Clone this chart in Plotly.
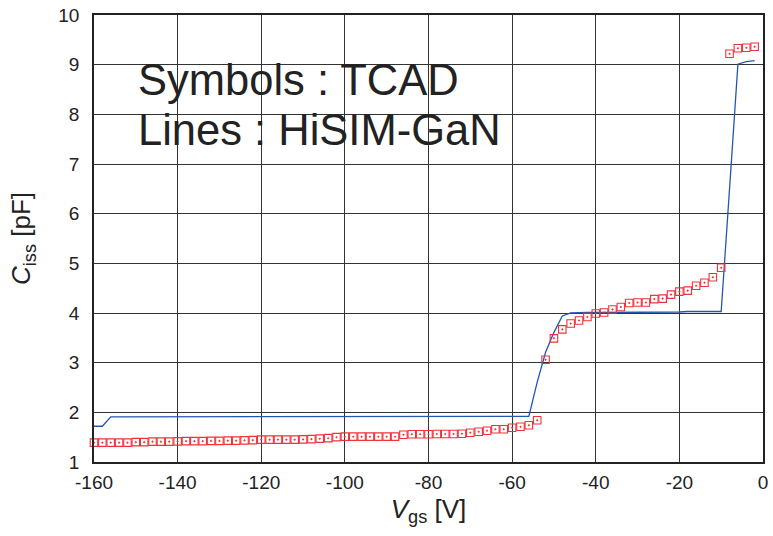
import plotly.graph_objects as go

# ---- data ----
vgs_tcad = [-160, -158, -156, -154, -152, -150, -148, -146, -144, -142,
            -140, -138, -136, -134, -132, -130, -128, -126, -124, -122,
            -120, -118, -116, -114, -112, -110, -108, -106, -104, -102,
            -100, -98, -96, -94, -92, -90, -88, -86, -84, -82,
            -80, -78, -76, -74, -72, -70, -68, -66, -64, -62,
            -60, -58, -56, -54, -52, -50, -48, -46, -44, -42,
            -40, -38, -36, -34, -32, -30, -28, -26, -24, -22,
            -20, -18, -16, -14, -12, -10, -8, -6, -4, -2]
ciss_tcad = [1.39, 1.39, 1.39, 1.39, 1.39, 1.40, 1.40, 1.41, 1.41, 1.41,
             1.415, 1.42, 1.42, 1.42, 1.425, 1.425, 1.43, 1.43, 1.435, 1.44,
             1.45, 1.45, 1.45, 1.45, 1.45, 1.455, 1.46, 1.47, 1.48, 1.50,
             1.51, 1.51, 1.51, 1.51, 1.51, 1.51, 1.51, 1.55, 1.56, 1.56,
             1.56, 1.565, 1.565, 1.565, 1.57, 1.59, 1.61, 1.63, 1.66, 1.66,
             1.69, 1.71, 1.74, 1.84, 3.06, 3.49, 3.67, 3.79, 3.85, 3.92,
             3.99, 4.01, 4.07, 4.12, 4.20, 4.21, 4.21, 4.28, 4.29, 4.37,
             4.43, 4.45, 4.55, 4.61, 4.72, 4.91, 9.22, 9.33, 9.34, 9.36]

vgs_hisim = [-160, -158, -156, -154, -152, -150, -148, -146, -144, -142,
             -140, -138, -136, -134, -132, -130, -128, -126, -124, -122,
             -120, -118, -116, -114, -112, -110, -108, -106, -104, -102,
             -100, -98, -96, -94, -92, -90, -88, -86, -84, -82,
             -80, -78, -76, -74, -72, -70, -68, -66, -64, -62,
             -60, -58, -56, -54, -52, -50, -48, -46, -44, -42,
             -40, -38, -36, -34, -32, -30, -28, -26, -24, -22,
             -20, -18, -16, -14, -12, -10, -8, -6, -4, -2]
ciss_hisim = [1.72, 1.72, 1.91, 1.91, 1.91, 1.91, 1.91, 1.91, 1.91, 1.91,
              1.91, 1.91, 1.91, 1.91, 1.91, 1.91, 1.91, 1.91, 1.91, 1.91,
              1.91, 1.91, 1.91, 1.91, 1.91, 1.91, 1.91, 1.91, 1.91, 1.91,
              1.91, 1.92, 1.92, 1.92, 1.92, 1.92, 1.92, 1.92, 1.92, 1.92,
              1.92, 1.92, 1.92, 1.92, 1.92, 1.92, 1.92, 1.92, 1.92, 1.92,
              1.92, 1.92, 1.92, 2.61, 3.21, 3.61, 3.94, 4.00, 4.01, 4.01,
              4.01, 4.01, 4.01, 4.02, 4.02, 4.02, 4.02, 4.02, 4.02, 4.02,
              4.02, 4.03, 4.03, 4.03, 4.03, 4.03, 6.50, 9.01, 9.06, 9.08]

x_tickvals = [-160, -140, -120, -100, -80, -60, -40, -20, 0]
x_ticktext = ["-160", "-140", "-120", "-100", "-80", "-60", "-40", "-20", "0"]
y_tickvals = [1, 2, 3, 4, 5, 6, 7, 8, 9, 10]
y_ticktext = ["1", "2", "3", "4", "5", "6", "7", "8", "9", "10"]

FONT = "Liberation Sans, Arial, Helvetica, sans-serif"
TXT = "#222222"

fig = go.Figure()
fig.add_trace(go.Scatter(
    x=vgs_hisim, y=ciss_hisim, mode="lines", name="HiSIM-GaN",
    line=dict(color="#2455b0", width=1.3), cliponaxis=False,
))
fig.add_trace(go.Scatter(
    x=vgs_tcad, y=ciss_tcad, mode="markers", name="TCAD",
    marker=dict(symbol="square-open-dot", size=7.5, color="#f0323a",
                line=dict(width=1.1, color="#f0323a")),
    cliponaxis=False,
))

fig.add_annotation(x=-150, y=8.70, xref="x", yref="y", text="Symbols : TCAD",
                   showarrow=False, xanchor="left", yanchor="middle",
                   font=dict(family=FONT, size=43.5, color=TXT))
fig.add_annotation(x=-150, y=7.68, xref="x", yref="y", text="Lines : HiSIM-GaN",
                   showarrow=False, xanchor="left", yanchor="middle",
                   font=dict(family=FONT, size=43.5, color=TXT))

axis_common = dict(
    showgrid=True, gridcolor="#333333", gridwidth=1,
    showline=True, linecolor="#222222", linewidth=1.5, mirror=True,
    zeroline=False, ticks="",
    tickfont=dict(family=FONT, size=19, color=TXT),
)

fig.update_layout(
    width=773, height=536,
    margin=dict(l=94, r=5, t=12, b=74),
    paper_bgcolor="white", plot_bgcolor="white",
    showlegend=False,
    xaxis=dict(range=[-160, 0], tickvals=x_tickvals, ticktext=x_ticktext,
               ticklabelstandoff=2,
               title=dict(text="<i>V</i><sub>gs</sub> [V]",
                          font=dict(family=FONT, size=26, color=TXT),
                          standoff=8),
               **axis_common),
    yaxis=dict(range=[1, 10], tickvals=y_tickvals, ticktext=y_ticktext,
               ticklabelstandoff=9,
               title=dict(text="<i>C</i><sub>iss</sub> [pF]",
                          font=dict(family=FONT, size=26, color=TXT),
                          standoff=20),
               **axis_common),
)

fig.write_html("out.html")
